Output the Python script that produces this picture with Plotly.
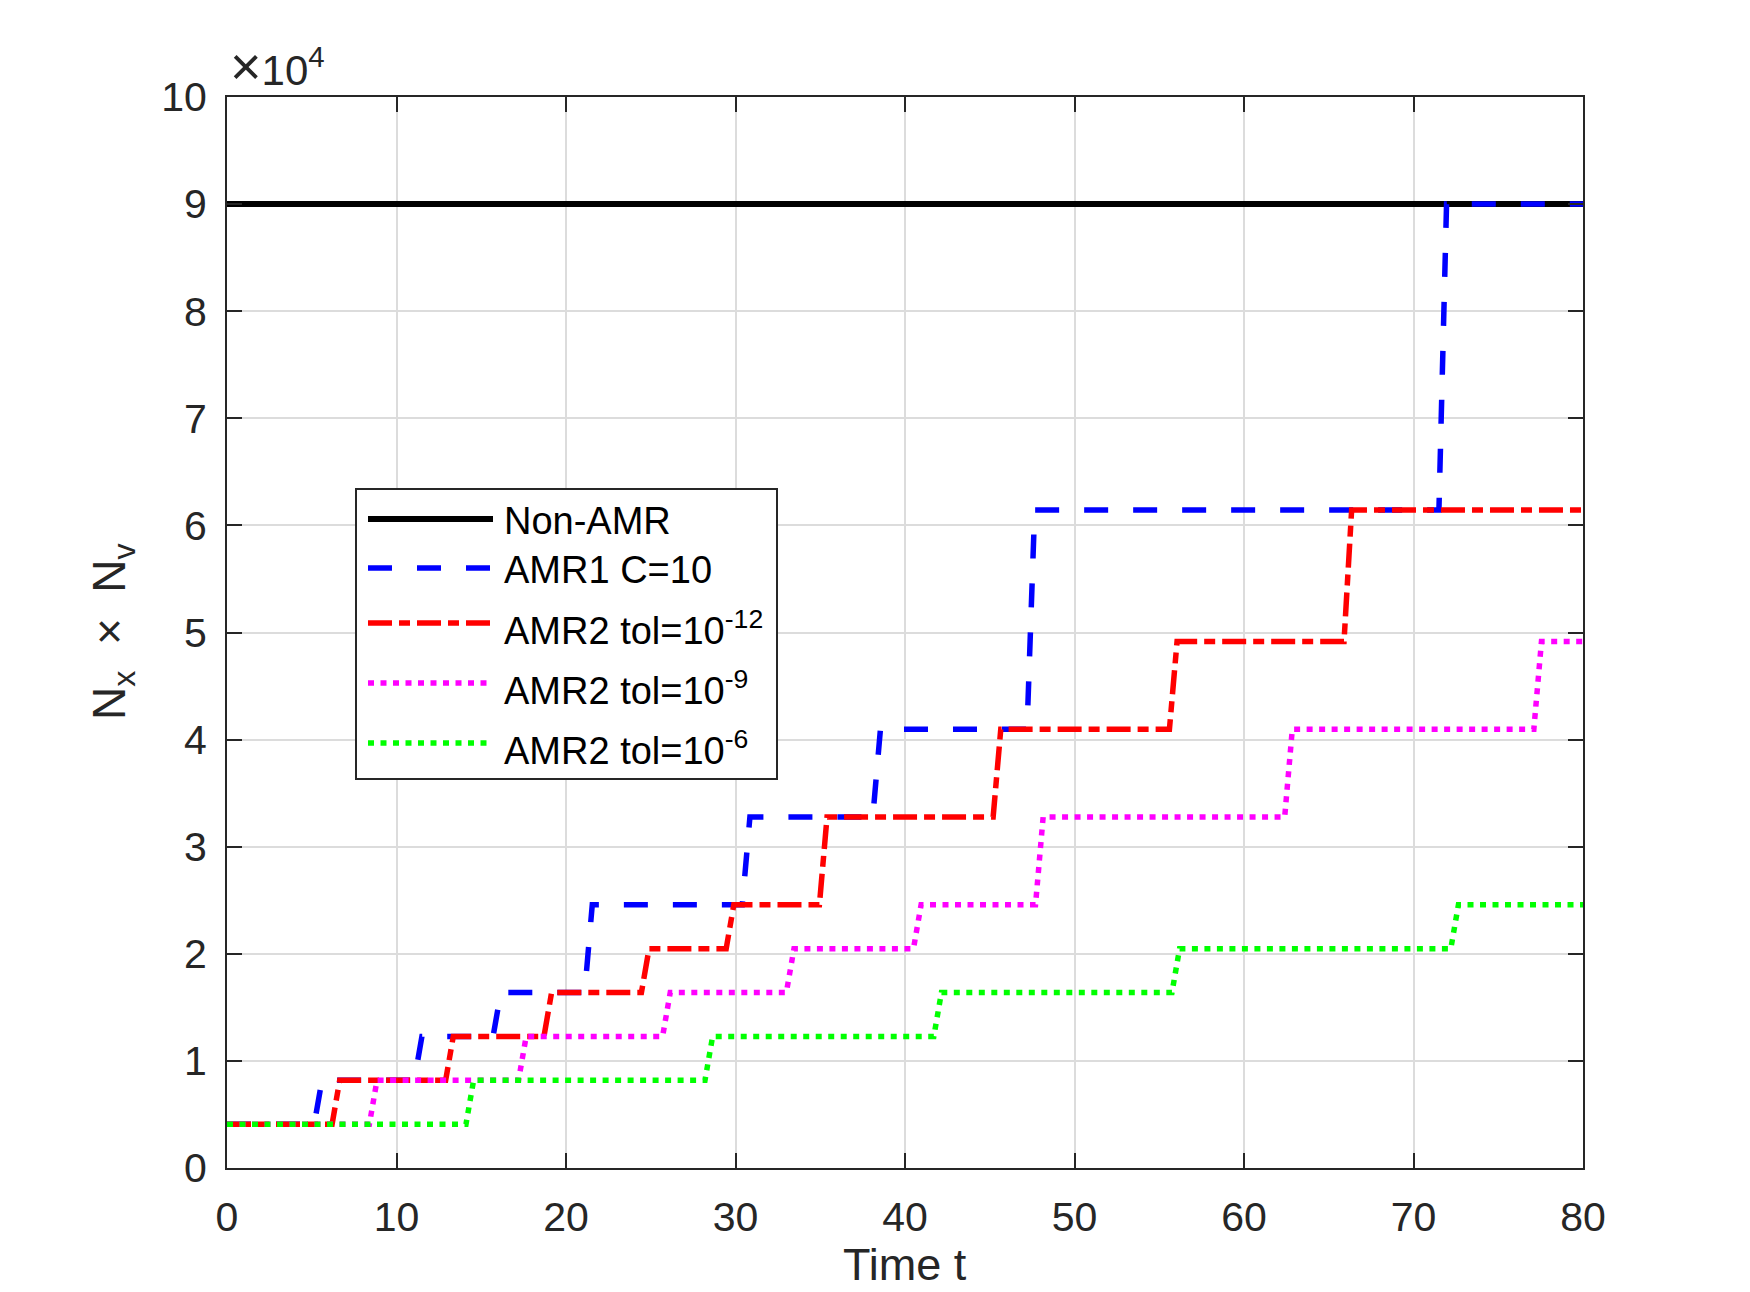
import plotly.graph_objects as go

# ---------------- data ----------------
T_END = 80.0
RISE = 0.45  # duration of each jump (time-step of the solver)

nonamr_level = [90000, 90000]
nonamr_t = [0, 80]

amr1_levels = [4096, 8192, 12288, 16384, 24576, 32768, 40960, 61440, 90000]
amr1_up = [5.15, 11.05, 15.7, 21.1, 30.4, 38.1, 47.2, 71.5]

amr2_12_levels = [4096, 8192, 12288, 16384, 20480, 24576, 32768, 40960, 49152, 61440]
amr2_12_up = [6.2, 12.9, 18.7, 24.45, 29.45, 34.95, 45.2, 55.6, 65.9]

amr2_9_levels = [4096, 8192, 12288, 16384, 20480, 24576, 32768, 40960, 49152]
amr2_9_up = [8.4, 17.2, 25.7, 33.0, 40.5, 47.7, 62.4, 77.1]

amr2_6_levels = [4096, 8192, 12288, 16384, 20480, 24576]
amr2_6_up = [14.1, 28.2, 41.7, 55.75, 72.2]

x_ticks = [0, 10, 20, 30, 40, 50, 60, 70, 80]
y_ticks = [0, 10000, 20000, 30000, 40000, 50000, 60000, 70000, 80000, 90000, 100000]
y_ticktext = ["0", "1", "2", "3", "4", "5", "6", "7", "8", "9", "10"]

names = ["Non-AMR", "AMR1 C=10", "AMR2 tol=10<sup>-12</sup>",
         "AMR2 tol=10<sup>-9</sup>", "AMR2 tol=10<sup>-6</sup>"]
x_title = "Time t"
y_title = "N<sub>x</sub>  ×  N<sub>v</sub>"


def steps(levels, ups):
    xs, ys = [0.0], [levels[0]]
    for i, t in enumerate(ups):
        xs += [t, t + RISE]
        ys += [levels[i], levels[i + 1]]
    xs.append(T_END)
    ys.append(levels[-1])
    return xs, ys


# ---------------- layout geometry ----------------
W, H = 1750, 1292
L, R, TOP, BOT = 227, 1583, 97, 1168
FONT = "Liberation Sans, Arial, Helvetica, sans-serif"
TXT = "#262626"
TICKSIZE = 41

styles = [
    dict(color="#000000", width=6, dash="solid"),
    dict(color="#0000ff", width=5.5, dash="24px,25px"),
    dict(color="#ff0000", width=5.5, dash="24px,7px,11px,7px"),
    dict(color="#ff00ff", width=5.5, dash="6px,6.5px"),
    dict(color="#00ff00", width=5.5, dash="6px,6.5px"),
]

fig = go.Figure()
series = [
    (nonamr_t, nonamr_level),
    steps(amr1_levels, amr1_up),
    steps(amr2_12_levels, amr2_12_up),
    steps(amr2_9_levels, amr2_9_up),
    steps(amr2_6_levels, amr2_6_up),
]
for (xs, ys), st, nm in zip(series, styles, names):
    fig.add_trace(go.Scatter(x=xs, y=ys, mode="lines", name=nm, line=st,
                             showlegend=False, hoverinfo="skip"))


def px_x(p):
    return (p - L) / (R - L)


def px_y(p):
    return (BOT - p) / (BOT - TOP)


# ---------------- custom legend (MATLAB style, long samples) ----------------
shapes = [dict(type="rect", xref="paper", yref="paper",
               x0=px_x(356), x1=px_x(777), y0=px_y(779), y1=px_y(489),
               line=dict(color=TXT, width=2), fillcolor="white", layer="above")]
annotations = []
row_y = [519, 568, 623, 683, 743]
text_y = [521, 570, 628, 688, 748]
for st, nm, ry, ty in zip(styles, names, row_y, text_y):
    shapes.append(dict(type="line", xref="paper", yref="paper",
                       x0=px_x(368), x1=px_x(493), y0=px_y(ry), y1=px_y(ry),
                       line=dict(color=st["color"], width=st["width"], dash=st["dash"]),
                       layer="above"))
    annotations.append(dict(text=nm, xref="paper", yref="paper", x=px_x(502), y=px_y(ty),
                            xanchor="left", yanchor="middle", showarrow=False,
                            font=dict(family=FONT, size=38, color="#000000")))

annotations.append(dict(text="<span style='font-size:54px'>×</span>10<sup>4</sup>",
                        xref="paper", yref="paper",
                        x=px_x(228), y=px_y(98), xanchor="left", yanchor="bottom",
                        showarrow=False, font=dict(family=FONT, size=42, color=TXT)))

# axis titles
annotations.append(dict(text=x_title, xref="paper", yref="paper",
                        x=0.5, y=px_y(1264), xanchor="center", yanchor="middle",
                        showarrow=False, font=dict(family=FONT, size=45, color=TXT)))
annotations.append(dict(text=y_title, xref="paper", yref="paper", textangle=-90,
                        x=px_x(112), y=px_y(632), xanchor="center", yanchor="middle",
                        showarrow=False, font=dict(family=FONT, size=46, color=TXT)))

fig.update_layout(
    width=W, height=H,
    margin=dict(l=L, r=W - R, t=TOP, b=H - BOT, autoexpand=False),
    paper_bgcolor="white", plot_bgcolor="white",
    font=dict(family=FONT, size=TICKSIZE, color=TXT),
    shapes=shapes, annotations=annotations,
    showlegend=False,
)
fig.update_xaxes(
    range=[0, 80], tickvals=x_ticks, ticks="inside", ticklen=15, tickwidth=2,
    tickcolor=TXT, showline=True, linecolor=TXT, linewidth=2, mirror="allticks",
    showgrid=True, gridcolor="#dcdcdc", gridwidth=1.5, zeroline=False,
    tickfont=dict(family=FONT, size=TICKSIZE, color=TXT), ticklabelstandoff=12,
    automargin=False,
)
fig.update_yaxes(
    range=[0, 100000], tickvals=y_ticks, ticktext=y_ticktext, ticks="inside",
    ticklen=15, tickwidth=2, tickcolor=TXT, showline=True, linecolor=TXT,
    linewidth=2, mirror="allticks", showgrid=True, gridcolor="#dcdcdc",
    gridwidth=1.5, zeroline=False,
    tickfont=dict(family=FONT, size=TICKSIZE, color=TXT), ticklabelstandoff=10,
    automargin=False,
)

fig.write_html("out.html")
